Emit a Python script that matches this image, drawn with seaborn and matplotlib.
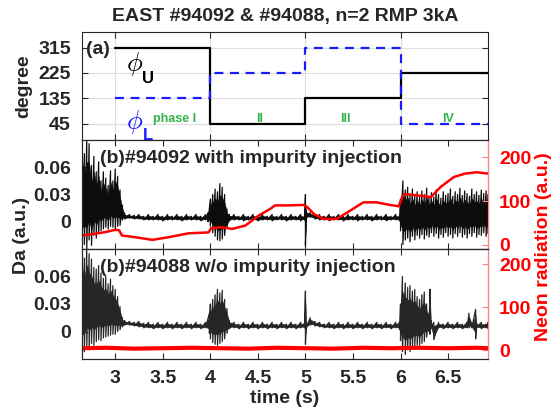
import numpy as np
import matplotlib
matplotlib.use('Agg')
import matplotlib.pyplot as plt
import seaborn as sns

# ---------------- data ----------------
# (a) coil phases, step changes
phase_t = [3.0, 4.0, 5.0, 6.0, 6.92]
phi_u = [315, 45, 135, 225, 225]
phi_l = [135, 225, 315, 45, 45]
phase_names = ['phase I', 'II', 'III', 'IV']
phase_name_t = [3.62, 4.52, 5.42, 6.5]

# (b) #94092 Da envelope (hi / lo), units of 1e-3
da_b_t = [2.65, 2.675, 2.70, 2.725, 2.75, 2.775, 2.80, 2.825, 2.85, 2.875, 2.90, 2.925, 2.95, 2.975,
          3.00, 3.025, 3.05, 3.075, 3.10, 3.15, 3.20, 3.25, 3.30, 3.35, 3.40, 3.45, 3.50, 3.55,
          3.60, 3.65, 3.70, 3.75, 3.80, 3.85, 3.90, 3.95, 3.975, 4.00, 4.025, 4.05, 4.075, 4.10,
          4.125, 4.15, 4.175, 4.20, 4.25, 4.30, 4.35, 4.40, 4.45, 4.50, 4.55, 4.60, 4.65, 4.70,
          4.75, 4.80, 4.85, 4.90, 4.95, 4.99, 5.00, 5.01, 5.05, 5.10, 5.15, 5.20, 5.25, 5.30,
          5.35, 5.40, 5.45, 5.50, 5.55, 5.60, 5.65, 5.70, 5.75, 5.80, 5.85, 5.90, 5.95, 5.99,
          6.00, 6.025, 6.05, 6.075, 6.10, 6.125, 6.15, 6.175, 6.20, 6.225, 6.25, 6.275, 6.30,
          6.325, 6.35, 6.375, 6.40, 6.425, 6.45, 6.475, 6.50, 6.525, 6.55, 6.575, 6.60, 6.625,
          6.65, 6.675, 6.70, 6.725, 6.75, 6.775, 6.80, 6.825, 6.85, 6.875, 6.90, 6.92]
da_b_hi = [90, 75, 90, 86, 62, 72, 55, 66, 45, 55, 48, 40, 56, 45,
           58, 50, 35, 18, 9, 8, 7, 8, 6, 8, 6, 8, 6, 8,
           6, 8, 6, 8, 6, 8, 6, 8, 10, 25, 30, 36, 33, 42,
           38, 30, 14, 8, 8, 6, 8, 6, 8, 6, 8, 6, 8, 6,
           8, 6, 8, 6, 8, 6, 30, 12, 10, 8, 8, 6, 8, 6,
           8, 6, 8, 6, 8, 6, 8, 6, 8, 6, 8, 6, 8, 6,
           25, 45, 35, 38, 30, 36, 28, 33, 27, 34, 30, 37, 28,
           32, 27, 35, 30, 26, 33, 29, 31, 36, 28, 33, 30, 37,
           29, 34, 31, 28, 36, 30, 33, 29, 35, 31, 34, 30]
da_b_lo = [-30, -25, -30, -20, -26, -15, -18, -12, -10, -8, -6, -8, -5, -6,
           -8, -5, -4, 2, 3, 4, 3, 3, 2, 2, 2, 2, 1, 2,
           2, 2, 1, 2, 2, 2, 1, 2, 0, -5, -12, -16, -20, -21,
           -19, -15, -6, 1, 2, 2, 1, 2, 2, 1, 2, 2, 1, 2,
           2, 1, 2, 2, 1, 2, -26, 4, 5, 3, 2, 2, 1, 2,
           2, 1, 2, 2, 1, 2, 2, 1, 2, 2, 1, 2, 2, 1,
           -10, -25, -20, -18, -22, -16, -20, -15, -18, -14, -19, -15, -17,
           -12, -16, -13, -18, -14, -17, -12, -16, -14, -18, -13, -16, -12,
           -17, -14, -18, -13, -16, -12, -17, -14, -15, -12, -16, -13]

# (b) #94092 neon radiation
neon_b_t = [2.65, 2.79, 2.90, 3.00, 3.04, 3.07, 3.21, 3.39, 3.56, 3.77, 3.98, 4.01, 4.12, 4.23,
            4.37, 4.51, 4.63, 4.68, 4.81, 4.98, 5.02, 5.09, 5.19, 5.33, 5.47, 5.61, 5.75, 5.89,
            5.98, 6.02, 6.04, 6.18, 6.32, 6.42, 6.56, 6.68, 6.80, 6.92]
neon_b = [21, 25, 29, 34, 33, 21, 17, 11, 17, 26, 28, 38, 40, 36,
          44, 67, 82, 90, 90, 91, 86, 70, 59, 59, 78, 97, 97, 91,
          88, 110, 116, 113, 109, 132, 155, 163, 166, 163]

# (c) #94088 Da envelope (hi / lo), units of 1e-3
da_c_t = [2.65, 2.675, 2.70, 2.725, 2.75, 2.775, 2.80, 2.825, 2.85, 2.875, 2.90, 2.925, 2.95, 2.975,
          3.00, 3.025, 3.05, 3.075, 3.10, 3.15, 3.20, 3.25, 3.30, 3.35, 3.40, 3.45, 3.50, 3.55,
          3.60, 3.65, 3.70, 3.75, 3.80, 3.85, 3.90, 3.95, 3.99, 4.00, 4.025, 4.05, 4.075, 4.10,
          4.125, 4.15, 4.175, 4.20, 4.25, 4.30, 4.35, 4.40, 4.45, 4.50, 4.55, 4.60, 4.65, 4.70,
          4.75, 4.80, 4.85, 4.90, 4.95, 4.99, 5.00, 5.01, 5.05, 5.10, 5.15, 5.20, 5.25, 5.30,
          5.35, 5.40, 5.45, 5.50, 5.55, 5.60, 5.65, 5.70, 5.75, 5.80, 5.85, 5.90, 5.95, 5.99,
          6.00, 6.02, 6.05, 6.075, 6.10, 6.125, 6.15, 6.175, 6.20, 6.225, 6.25, 6.275, 6.30,
          6.31, 6.32, 6.35, 6.40, 6.45, 6.50, 6.55, 6.60, 6.65, 6.70, 6.72, 6.75, 6.79, 6.80,
          6.85, 6.90, 6.92]
da_c_hi = [95, 80, 95, 85, 79, 70, 68, 72, 64, 58, 60, 52, 57, 50,
           46, 38, 27, 15, 12, 11, 10, 11, 9, 10, 8, 10, 8, 10,
           8, 10, 8, 10, 8, 10, 8, 10, 20, 30, 35, 40, 46, 42,
           45, 35, 25, 12, 10, 8, 10, 8, 10, 8, 10, 8, 10, 8,
           10, 8, 10, 8, 10, 9, 44, 10, 15, 11, 10, 8, 10, 8,
           10, 8, 10, 8, 10, 8, 10, 8, 10, 8, 10, 8, 10, 10,
           30, 60, 53, 48, 50, 44, 46, 38, 35, 40, 43, 30, 20,
           46, 12, 10, 10, 8, 10, 8, 10, 8, 10, 20, 9, 24, 9,
           10, 8, 10]
da_c_lo = [-28, -22, -17, -20, -13, -15, -11, -9, -10, -7, -6, -5, -4, -3,
           -3, 0, 2, 5, 7, 7, 6, 5, 4, 4, 3, 4, 3, 4,
           3, 4, 3, 4, 3, 4, 3, 4, -2, -8, -12, -14, -15, -13,
           -11, -8, -2, 3, 4, 3, 4, 3, 4, 3, 4, 3, 4, 3,
           4, 3, 4, 3, 4, 4, -14, 4, 7, 6, 5, 4, 4, 3,
           4, 3, 4, 3, 4, 3, 4, 3, 4, 3, 4, 3, 4, 2,
           -10, -22, -25, -20, -22, -18, -16, -15, -15, -13, -11, -6, 0,
           -3, 3, -9, 4, 3, 4, 3, 4, 3, 4, 4, 4, -8, 4,
           3, 4, 3]

# (c) #94088 neon radiation
neon_c_t = [2.65, 2.9, 3.2, 3.5, 3.8, 4.1, 4.4, 4.7, 5.0, 5.3, 5.6, 5.9, 6.2, 6.5, 6.8, 6.92]
neon_c = [5, 6, 4, 5, 6, 5, 4, 6, 5, 4, 6, 5, 6, 5, 6, 5]

# ---------------- style ----------------
sns.set_style('ticks')
plt.rcParams['font.family'] = ['Liberation Sans', 'DejaVu Sans']
plt.rcParams['font.weight'] = 'bold'
plt.rcParams['mathtext.fontset'] = 'cm'
fs = 14
green = '#33b34a'
blue = '#1a1aff'
red = '#ff0000'
pink = '#ff8080'

fig = plt.figure(figsize=(5.57, 4.17), dpi=100)
L, W = 82 / 557, 406 / 557
ax_a = fig.add_axes([L, 1 - 140 / 417, W, 108 / 417])
ax_b = fig.add_axes([L, 1 - 249 / 417, W, 109 / 417])
ax_c = fig.add_axes([L, 1 - 359 / 417, W, 110 / 417])
xlim = (2.65, 6.92)
xt = [3, 3.5, 4, 4.5, 5, 5.5, 6, 6.5]

# ---- (a) phases ----
ax_a.grid(True, color='#dedede', lw=0.8)
sns.lineplot(x=phase_t, y=phi_u, ax=ax_a, color='k', lw=1.6, drawstyle='steps-post',
             estimator=None, sort=False)
sns.lineplot(x=phase_t, y=phi_l, ax=ax_a, color=blue, lw=1.6, drawstyle='steps-post',
             estimator=None, sort=False, linestyle=(0, (4, 3)))
ax_a.set_xlim(xlim)
ax_a.set_ylim(-12, 370)
ax_a.set_yticks([45, 135, 225, 315])
ax_a.set_xticks([3, 4, 5, 6])
ax_a.set_xticklabels([])
ax_a.set_ylabel('degree', fontsize=fs, fontweight='bold', labelpad=4)
ax_a.text(2.69, 307, '(a)', fontsize=fs, fontweight='bold', va='center', ha='left')
ax_a.text(3.11, 258, r'$\phi$', fontsize=19, color='k', va='center', ha='left')
ax_a.text(3.285, 206, 'U', fontsize=12, fontweight='bold', color='k', va='center', ha='left')
ax_a.text(3.11, 50, r'$\phi$', fontsize=19, color=blue, va='center', ha='left')
ax_a.text(3.285, 3, 'L', fontsize=12, fontweight='bold', color=blue, va='center', ha='left')
for name, tx in zip(phase_names, phase_name_t):
    ax_a.text(tx, 64, name, fontsize=9, color=green, fontweight='bold', ha='center', va='center')


def da_panel(ax, t, hi, lo, neon_t, neon, ylim_r, label, dcol, nlw):
    hi = np.array(hi) * 1e-3
    lo = np.array(lo) * 1e-3
    # dense core of the signal plus a trace swinging between the read-off extremes
    ax.fill_between(t, 0.8 * lo + 0.2 * hi, 0.8 * hi + 0.2 * lo, color=dcol, lw=0.3)
    x = np.repeat(t, 2)
    y = np.column_stack([hi, lo]).ravel()
    sns.lineplot(x=x, y=y, ax=ax, color=dcol, lw=0.9, estimator=None, sort=False)
    ax.set_xlim(xlim)
    ax.set_ylim(-0.03, 0.09)
    ax.set_yticks([0, 0.03, 0.06])
    ax.set_yticklabels(['0', '0.03', '0.06'])
    ax.set_xticks(xt)
    ax.text(0.044, 0.83, label, transform=ax.transAxes, fontsize=fs, fontweight='bold',
            va='center', ha='left', zorder=5)
    axr = ax.twinx()
    sns.lineplot(x=neon_t, y=neon, ax=axr, color=red, lw=nlw, estimator=None, sort=False)
    axr.set_ylim(ylim_r)
    axr.set_yticks([0, 100, 200])
    axr.set_ylabel('')
    axr.tick_params(axis='y', colors=pink, labelcolor=red, direction='in', length=4,
                    labelsize=fs, pad=8)
    axr.spines['right'].set_color(pink)
    return axr


axr_b = da_panel(ax_b, da_b_t, da_b_hi, da_b_lo, neon_b_t, neon_b, (-10, 240),
                 '(b)#94092 with impurity injection', '#0d0d0d', 1.8)
axr_c = da_panel(ax_c, da_c_t, da_c_hi, da_c_lo, neon_c_t, neon_c, (-20, 235),
                 '(b)#94088 w/o impurity injection', '#262626', 3.0)
ax_b.set_xticklabels([])
ax_c.set_xticklabels(['3', '3.5', '4', '4.5', '5', '5.5', '6', '6.5'])
ax_c.set_xlabel('time (s)', fontsize=fs, fontweight='bold', labelpad=2)

for ax in (ax_a, ax_b, ax_c):
    ax.tick_params(direction='in', length=4, width=0.8, labelsize=fs, top=True, pad=8)
    for s in ax.spines.values():
        s.set_linewidth(0.8)
ax_a.tick_params(axis='y', right=True)

fig.text(285 / 557, 1 - 17 / 417, 'EAST #94092 & #94088, n=2 RMP 3kA', fontsize=fs,
         fontweight='bold', ha='center', va='center')
fig.text(22 / 557, 1 - 235 / 417, 'Da (a.u.)', fontsize=fs, fontweight='bold',
         rotation=90, ha='center', va='center')
fig.text(544 / 557, 1 - 247 / 417, 'Neon radiation (a.u.)', fontsize=fs, fontweight='bold',
         color=red, rotation=90, ha='center', va='center')

fig.savefig('out.png', dpi=100)
